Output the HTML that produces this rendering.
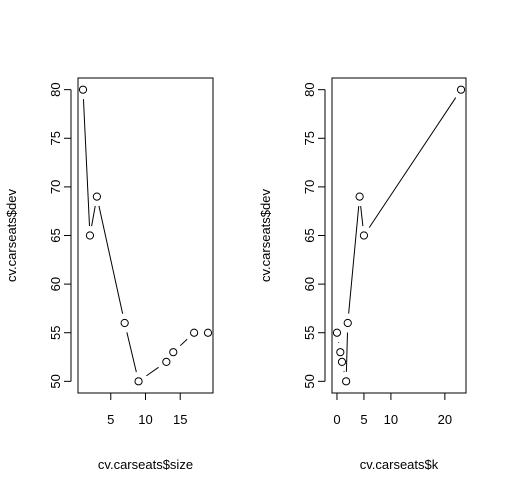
<!DOCTYPE html>
<html><head><meta charset="utf-8"><style>
body{margin:0;background:#fff}
svg text{font-family:"Liberation Sans",Arial,sans-serif;font-size:13px;fill:#000}
</style></head><body>
<svg id="s" width="506" height="492" xmlns="http://www.w3.org/2000/svg"></svg>
<script>
const sizes=[19,17,14,13,9,7,3,2,1];
const devs=[55,55,53,52,50,56,69,65,80];
const ks=[null,0,0.62,0.93,1.7,2,4.2,5,23];
const yTicks=[50,55,60,65,70,75,80];
const xTicksL=[5,10,15];
const xTicksR=[0,5,10,20];
const NS="http://www.w3.org/2000/svg";
const svg=document.getElementById('s');
function mk(t,a,p){const e=document.createElementNS(NS,t);for(const k in a)e.setAttribute(k,a[k]);(p||svg).appendChild(e);return e;}
function panel(name,x0,x1,y0,y1,xs,ys,xt,xlab){
  const g=mk('g',{});
  
  
  const fx=xs.filter(v=>v!=null);
  let xmin=Math.min(...fx),xmax=Math.max(...fx),ymin=Math.min(...ys),ymax=Math.max(...ys);
  const dx=(xmax-xmin)*0.04,dy=(ymax-ymin)*0.04;
  xmin-=dx;xmax+=dx;ymin-=dy;ymax+=dy;
  const sx=v=>x0+(v-xmin)/(xmax-xmin)*(x1-x0);
  const sy=v=>y1-(v-ymin)/(ymax-ymin)*(y1-y0);
  const box=mk('rect',{x:x0,y:y0,width:x1-x0,height:y1-y0,fill:'none',stroke:'#000','stroke-width':1},g);
  
  const ya=mk('g',{},g);
  mk('line',{x1:x0-7,x2:x0-7,y1:sy(yTicks[0]),y2:sy(yTicks[yTicks.length-1]),stroke:'#000'},ya);
  yTicks.forEach(t=>{const y=sy(t);mk('line',{x1:x0-7,x2:x0-14,y1:y,y2:y,stroke:'#000'},ya);
    const tx=mk('text',{x:0,y:0,'text-anchor':'middle',transform:`translate(${x0-18},${y}) rotate(-90)`},ya);tx.textContent=t;
    });
  const yt=mk('text',{x:0,y:0,'text-anchor':'middle',transform:`translate(${x0-62},${(y0+y1)/2}) rotate(-90)`},g);
  yt.textContent='cv.carseats$dev';
  const xa=mk('g',{},g);
  mk('line',{x1:sx(xt[0]),x2:sx(xt[xt.length-1]),y1:y1,y2:y1,stroke:'#000'},xa);
  xt.forEach(t=>{const x=sx(t);mk('line',{x1:x,x2:x,y1:y1,y2:y1+7,stroke:'#000'},xa);
    const tx=mk('text',{x:x,y:y1+31,'text-anchor':'middle'},xa);tx.textContent=t;
    });
  const xl=mk('text',{x:(x0+x1)/2,y:y1+76,'text-anchor':'middle'},g);
  xl.textContent=xlab;
  const gap=9.5;
  for(let i=0;i<xs.length-1;i++){
    if(xs[i]==null||xs[i+1]==null)continue;
    const ax=sx(xs[i]),ay=sy(ys[i]),bx=sx(xs[i+1]),by=sy(ys[i+1]);
    const L=Math.hypot(bx-ax,by-ay);if(L<=2*gap)continue;
    const ux=(bx-ax)/L,uy=(by-ay)/L;
    const ln=mk('line',{x1:ax+ux*gap,y1:ay+uy*gap,x2:bx-ux*gap,y2:by-uy*gap,stroke:'#000'},g);
    
  }
  xs.forEach((v,i)=>{if(v==null)return;
    const c=mk('circle',{cx:sx(v),cy:sy(ys[i]),r:3.6,fill:'#fff',stroke:'#000','stroke-width':1},g);
    });
}
panel('left-panel-size',78,213,78,393,sizes,devs,xTicksL,'cv.carseats$size');
panel('right-panel-k',332,466,78,393,ks,devs,xTicksR,'cv.carseats$k');
</script>
</body></html>
